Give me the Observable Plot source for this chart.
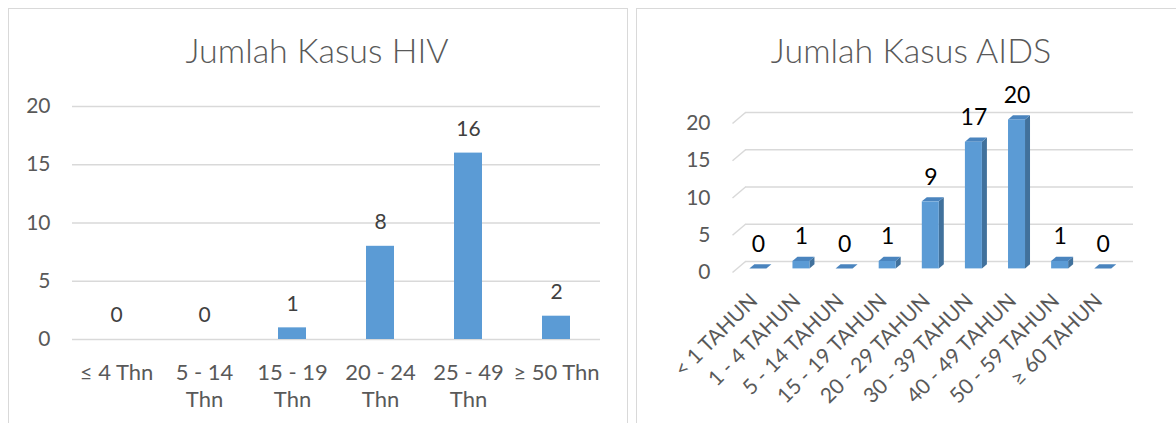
<!DOCTYPE html>
<html><head><meta charset="utf-8">
<script src="https://cdn.jsdelivr.net/npm/d3@7"></script>
<script src="https://cdn.jsdelivr.net/npm/@observablehq/plot@0.6"></script>
<style>
body{margin:0;background:#fff;font-family:Lato,sans-serif;}
#wrap{position:relative;width:1176px;height:423px;overflow:hidden;background:#fff}
.panel{position:absolute;border:1px solid #D9D9D9;box-sizing:border-box}
.title{position:absolute;text-align:center;color:#595959;font-size:34px;font-family:Lato,sans-serif;font-weight:300;line-height:1;white-space:nowrap}
.chart{position:absolute;top:0}
</style></head><body>
<div id="wrap">
 <div class="panel" style="left:8px;top:8px;width:620px;height:440px"></div>
 <div class="panel" style="left:636px;top:8px;width:580px;height:440px"></div>
 <div class="title" style="left:8px;width:618px;top:33px">Jumlah Kasus HIV</div>
 <div class="title" style="left:636px;width:550px;top:33px">Jumlah Kasus AIDS</div>
 <div class="chart" id="c1" style="left:0"></div>
 <div class="chart" id="c2" style="left:630px"></div>
</div>
<script>
// ---- data ----
const hivCategories = ["≤ 4 Thn", "5 - 14 Thn", "15 - 19 Thn", "20 - 24 Thn", "25 - 49 Thn", "≥ 50 Thn"];
const hivTickLabels = ["≤ 4 Thn", "5 - 14\nThn", "15 - 19\nThn", "20 - 24\nThn", "25 - 49\nThn", "≥ 50 Thn"];
const hivValues = [0, 0, 1, 8, 16, 2];
const aidsCategories = ["< 1 TAHUN", "1 - 4 TAHUN", "5 - 14 TAHUN", "15 - 19 TAHUN", "20 - 29 TAHUN", "30 - 39 TAHUN", "40 - 49 TAHUN", "50 - 59 TAHUN", "≥ 60 TAHUN"];
const aidsValues = [0, 1, 0, 1, 9, 17, 20, 1, 0];
const yTicks = [0, 5, 10, 15, 20];

// ---- left chart ----
const hiv = hivCategories.map((c, i) => ({c, v: hivValues[i]}));
const left = Plot.plot({
  width: 630, height: 423, marginLeft: 72, marginRight: 30, marginTop: 106, marginBottom: 84,
  style: {fontFamily: "Lato, sans-serif", background: "transparent", overflow: "visible"},
  x: {type: "band", domain: hivCategories, padding: 0},
  y: {domain: [0, 20]},
  marks: [
    Plot.ruleY(yTicks, {stroke: "#D9D9D9", strokeWidth: 1.5}),
    Plot.barY(hiv, {x: "c", y: "v", fill: "#5B9BD5", insetLeft: 30, insetRight: 30}),
    Plot.text(hiv, {x: "c", y: "v", text: d => String(d.v), dy: -24, fontSize: 21, fill: "#404040"}),
    Plot.axisY(yTicks, {tickSize: 0, tickPadding: 22, fontSize: 21, color: "#595959", label: null}),
    Plot.axisX({tickSize: 0, tickPadding: 22, fontSize: 22, color: "#595959", label: null, lineHeight: 1.2,
      tickFormat: c => hivTickLabels[hivCategories.indexOf(c)]})
  ]
});
document.getElementById("c1").appendChild(left);

// ---- right chart (3-D look) ----
const W2 = 546, H2 = 423, ml2 = 102, mr2 = 56, mt2 = 123, mb2 = 151;
const kx = (W2 - ml2 - mr2) / aidsCategories.length, ky = (H2 - mt2 - mb2) / 20;
const wallDx = 13, wallDy = 11;
const barOffX = 4.3, barOffY = 3.6, barDepthX = 5, barDepthY = 4.2, barHalf = 8.5;
const hw = barHalf / kx, sdx = barDepthX / kx, sdy = barDepthY / ky;
const aids = aidsCategories.map((c, i) => ({c, i, v: aidsValues[i], xm: i + 0.5}));
const sidePts = aids.flatMap(d => [
  {z: d.i, x: d.xm + hw, y1: 0, y2: d.v},
  {z: d.i, x: d.xm + hw + sdx, y1: sdy, y2: d.v + sdy}]);
const topPts = aids.flatMap(d => [
  {z: d.i, y: d.v, x1: d.xm - hw, x2: d.xm + hw},
  {z: d.i, y: d.v + sdy, x1: d.xm - hw + sdx, x2: d.xm + hw + sdx}]);

const right = Plot.plot({
  width: W2, height: H2, marginLeft: ml2, marginRight: mr2, marginTop: mt2, marginBottom: mb2,
  style: {fontFamily: "Lato, sans-serif", background: "transparent", overflow: "visible"},
  x: {domain: [0, aidsCategories.length]},
  y: {domain: [0, 20]},
  marks: [
    Plot.ruleY(yTicks, {x1: 0, x2: aidsCategories.length, dx: wallDx, dy: -wallDy, stroke: "#D9D9D9", strokeWidth: 1.5}),
    Plot.link(yTicks, {x1: 0, y1: d => d, x2: wallDx / kx, y2: d => d + wallDy / ky, stroke: "#D9D9D9", strokeWidth: 1.5}),
    Plot.areaY(sidePts, {x: "x", y1: "y1", y2: "y2", z: "z", fill: "#41719C", dx: barOffX, dy: -barOffY}),
    Plot.areaX(topPts, {y: "y", x1: "x1", x2: "x2", z: "z", fill: "#4A84BE", dx: barOffX, dy: -barOffY}),
    Plot.rect(aids, {x1: d => d.xm - hw, x2: d => d.xm + hw, y1: 0, y2: "v", fill: "#5B9BD5", dx: barOffX, dy: -barOffY}),
    Plot.text(aids, {x: "xm", y: "v", text: d => String(d.v), dx: barOffX, dy: -28, fontSize: 23, fill: "#000000"}),
    Plot.axisY(yTicks, {tickSize: 0, tickPadding: 22, fontSize: 21, color: "#595959", label: null}),
    Plot.axisX(aids.map(d => d.xm), {tickSize: 0, tickPadding: 25, tickRotate: -45, fontSize: 21, color: "#595959", label: null,
      dx: 0, tickFormat: d => aidsCategories[Math.floor(d)]})
  ]
});
document.getElementById("c2").appendChild(right);
</script>
</body></html>
